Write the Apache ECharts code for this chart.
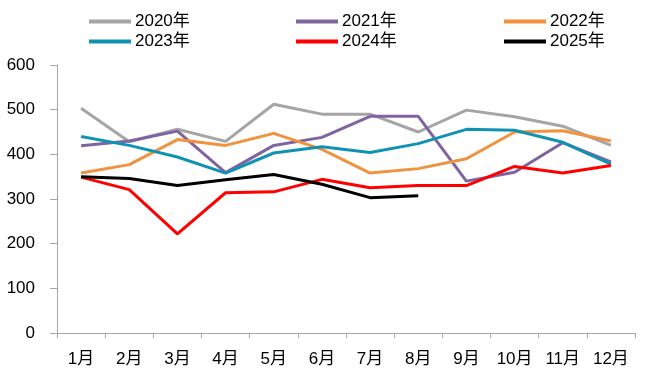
<!DOCTYPE html>
<html><head><meta charset="utf-8">
<script src="https://cdn.jsdelivr.net/npm/echarts@6/dist/echarts.min.js"></script>
<style>html,body{margin:0;padding:0;background:#fff}#c{width:653px;height:387px}</style>
</head><body><div id="c"></div>
<script>
var categories = ['1月','2月','3月','4月','5月','6月','7月','8月','9月','10月','11月','12月'];
var yTicks = [0,100,200,300,400,500,600];
var s2020 = [503,428,456,429,512,490,490,450,499,484,463,420];
var s2021 = [419,430,452,359,420,438,485,485,340,360,426,383];
var s2022 = [358,377,433,420,447,411,358,368,390,450,453,430];
var s2023 = [440,420,394,358,403,417,404,424,456,454,427,378];
var s2024 = [349,321,222,314,316,344,325,330,330,373,358,375];
var s2025 = [350,346,330,343,355,333,303,307];
var names = ['2020年','2021年','2022年','2023年','2024年','2025年'];
var colors = ['#A5A5A5','#8064A2','#F0923E','#1192B5','#FF0000','#000000'];
var values = [s2020,s2021,s2022,s2023,s2024,s2025];

var FONT = 'Liberation Sans, Noto Sans CJK SC, sans-serif';
var legendPos = [[89,13],[296,13],[504,13],[89,33],[296,33],[504,33]];
var legends = names.map(function(n,i){
  return {
    data:[n], left:legendPos[i][0], top:legendPos[i][1], orient:'horizontal',
    icon:'rect', itemWidth:42, itemHeight:4, itemGap:0, padding:0,
    textStyle:{fontFamily:FONT,fontSize:17,color:'#000',padding:[0,0,0,-1]},
    selectedMode:false
  };
});
var series = names.map(function(n,i){
  return {
    name:n, type:'line', data:values[i], symbol:'none', smooth:false,
    color:colors[i], lineStyle:{width:3,color:colors[i]}, z: 2+i,
    animation:false
  };
});
var chart = echarts.init(document.getElementById('c'));
chart.setOption({
  backgroundColor:'#fff',
  animation:false,
  legend: legends,
  grid:{left:57,right:18,top:65,bottom:54,containLabel:false},
  xAxis:{
    type:'category', data:categories, boundaryGap:true,
    axisLine:{lineStyle:{color:'#A6A6A6',width:1}},
    axisTick:{show:true,length:5,lineStyle:{color:'#A6A6A6'}},
    axisLabel:{fontFamily:FONT,fontSize:17,color:'#000',margin:18,interval:0},
    splitLine:{show:false}
  },
  yAxis:{
    type:'value', min:yTicks[0], max:yTicks[yTicks.length-1], interval:100,
    axisLine:{show:true,lineStyle:{color:'#A6A6A6',width:1}},
    axisTick:{show:true,length:7,lineStyle:{color:'#A6A6A6'}},
    axisLabel:{fontFamily:FONT,fontSize:17,color:'#000',margin:22},
    splitLine:{show:false}
  },
  series: series
});
</script></body></html>
